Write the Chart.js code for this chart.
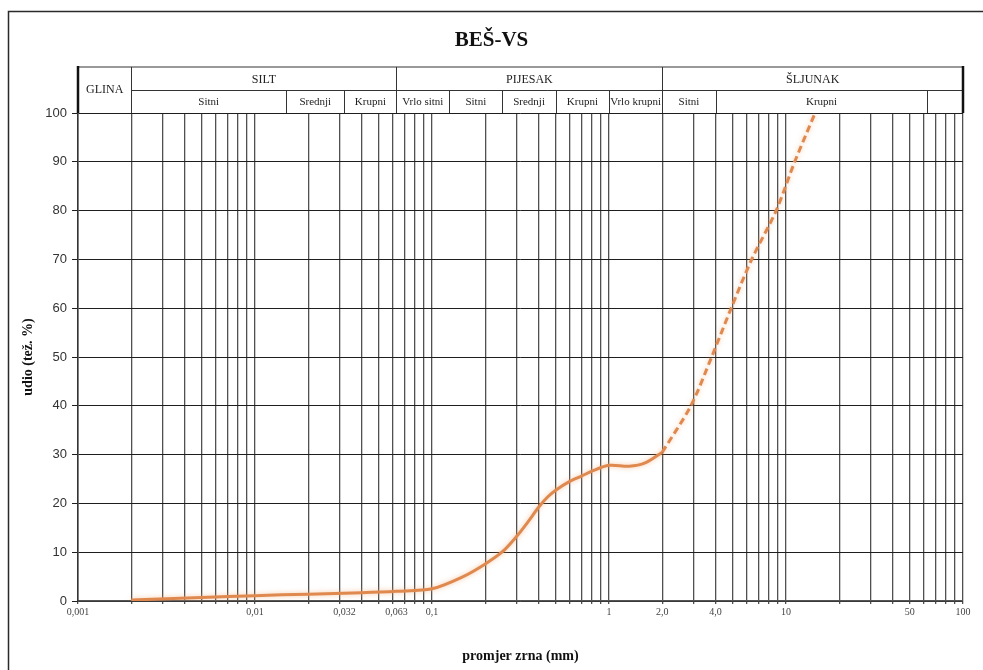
<!DOCTYPE html>
<html lang="hr">
<head>
<meta charset="utf-8">
<title>BEŠ-VS</title>
<script src="https://cdn.jsdelivr.net/npm/chart.js@4.4.1/dist/chart.umd.min.js"></script>
<style>
  body { margin: 0; background: #fff; }
  canvas { display: block; }
</style>
</head>
<body>
<canvas id="myChart" width="983" height="670"></canvas>
<script>
const ctx = document.getElementById("myChart");

//*****************************************************/
//********************** PODACI ***********************/
//*****************************************************/

// granulometrijska krivulja - puna linija
const promjerPuna = [0.002, 0.005, 0.01, 0.02, 0.04, 0.063, 0.1, 0.15, 0.2, 0.25, 0.3, 0.35, 0.4, 0.45, 0.5, 0.6, 0.7, 0.8, 1.0, 1.3, 1.6, 2.0];
const udioPuna = [0.2, 0.7, 1.1, 1.4, 1.7, 2.0, 2.5, 5.0, 7.6, 10.1, 13.2, 16.3, 19.2, 21.3, 22.7, 24.5, 25.6, 26.6, 27.8, 27.6, 28.3, 30.5];

// isprekidani nastavak krivulje
const promjerCrtkana = [2.0, 2.9, 3.8, 4.9, 6.4, 8.8, 11.2, 14.6];
const udioCrtkana = [30.5, 40, 50, 60, 70, 80, 90, 100];

// vertikalne linije mreze (log skala)
const mrezaX = [
  0.001, 0.002, 0.003, 0.004, 0.005, 0.006, 0.007, 0.008, 0.009,
  0.01, 0.02, 0.03, 0.04, 0.05, 0.06, 0.07, 0.08, 0.09,
  0.1, 0.2, 0.3, 0.4, 0.5, 0.6, 0.7, 0.8, 0.9,
  1, 2, 3, 4, 5, 6, 7, 8, 9,
  10, 20, 30, 40, 50, 60, 70, 80, 90, 100
];

// oznake na x osi
const oznakeVrijednosti = [0.001, 0.01, 0.032, 0.063, 0.1, 1, 2, 4, 10, 50, 100];
const oznakeTekst = ["0,001", "0,01", "0,032", "0,063", "0,1", "1", "2,0", "4,0", "10", "50", "100"];

// oznake na y osi
const oznakeY = [0, 10, 20, 30, 40, 50, 60, 70, 80, 90, 100];

// zaglavlje - frakcije
const frakcije = ["GLINA", "SILT", "PIJESAK", "ŠLJUNAK"];
const graniceFrakcija = [0.001, 0.002, 0.063, 2, 100];
const podfrakcije = ["Sitni", "Srednji", "Krupni", "Vrlo sitni", "Sitni", "Srednji", "Krupni", "Vrlo krupni", "Sitni", "Krupni", ""];
const granicePodfrakcija = [0.002, 0.015, 0.032, 0.063, 0.125, 0.25, 0.5, 1, 2, 4, 63, 100];

const SERIF = "'Liberation Serif', 'Times New Roman', serif";
const SANS = "'Liberation Sans', Arial, sans-serif";

//*****************************************************/
//********************* DODACI ************************/
//*****************************************************/

const pozadina = {
  id: "pozadina",
  beforeDraw: (chart) => {
    const c = chart.ctx;
    c.save();
    c.fillStyle = "#ffffff";
    c.fillRect(0, 0, chart.width, chart.height);
    c.strokeStyle = "#2a2a2a";
    c.lineWidth = 1.5;
    c.strokeRect(8.5, 11.5, chart.width + 20, chart.height + 20);
    c.restore();
  },
};

const sjena = {
  id: "sjena",
  beforeDatasetDraw: (chart) => {
    const c = chart.ctx;
    c.save();
    c.shadowColor = "rgba(240,165,110,0.6)";
    c.shadowBlur = 5;
  },
  afterDatasetDraw: (chart) => {
    chart.ctx.restore();
  },
};

const zaglavlje = {
  id: "zaglavlje",
  afterDraw: (chart) => {
    const c = chart.ctx;
    const x = chart.scales.x;
    const area = chart.chartArea;
    const yTop = 67;
    const yMid = 90;
    const yBot = area.top;

    c.save();

    // naslov
    c.fillStyle = "#111";
    c.textAlign = "center";
    c.textBaseline = "middle";
    c.font = "bold 21px " + SERIF;
    c.fillText("BEŠ-VS", chart.width / 2, 41);

    // okvir zaglavlja
    c.strokeStyle = "#999";
    c.lineWidth = 2;
    c.beginPath();
    c.moveTo(area.left, yTop);
    c.lineTo(area.right, yTop);
    c.stroke();

    c.strokeStyle = "#333";
    c.lineWidth = 1;
    c.beginPath();
    c.moveTo(x.getPixelForValue(0.002), yMid + 0.5);
    c.lineTo(area.right, yMid + 0.5);
    c.stroke();

    granicePodfrakcija.forEach((g) => {
      const px = Math.round(x.getPixelForValue(g)) + 0.5;
      c.beginPath();
      c.moveTo(px, yMid);
      c.lineTo(px, yBot);
      c.stroke();
    });
    graniceFrakcija.forEach((g) => {
      const px = Math.round(x.getPixelForValue(g)) + 0.5;
      c.beginPath();
      c.moveTo(px, yTop);
      c.lineTo(px, yBot);
      c.stroke();
    });

    c.strokeStyle = "#111";
    c.lineWidth = 2.5;
    c.beginPath();
    c.moveTo(area.left, yTop - 1);
    c.lineTo(area.left, yBot);
    c.moveTo(area.right, yTop - 1);
    c.lineTo(area.right, yBot);
    c.stroke();

    // tekst frakcija
    c.fillStyle = "#222";
    for (let i = 0; i < frakcije.length; i++) {
      const x1 = x.getPixelForValue(graniceFrakcija[i]);
      const x2 = x.getPixelForValue(graniceFrakcija[i + 1]);
      c.font = "12px " + SERIF;
      const yy = i === 0 ? (yTop + yBot) / 2 : (yTop + yMid) / 2 + 1;
      c.fillText(frakcije[i], (x1 + x2) / 2, yy);
    }
    c.font = "11px " + SERIF;
    for (let i = 0; i < podfrakcije.length; i++) {
      const x1 = x.getPixelForValue(granicePodfrakcija[i]);
      const x2 = x.getPixelForValue(granicePodfrakcija[i + 1]);
      c.fillText(podfrakcije[i], (x1 + x2) / 2, (yMid + yBot) / 2 + 1);
    }

    // naslovi osi
    c.font = "bold 14px " + SERIF;
    c.fillStyle = "#111";
    c.fillText("promjer zrna (mm)", (area.left + area.right) / 2, 656);
    c.translate(28, (area.top + area.bottom) / 2);
    c.rotate(-Math.PI / 2);
    c.fillText("udio (tež. %)", 0, 0);

    c.restore();
  },
};

//*****************************************************/
//****************** DIBUJANJE GRAFA ******************/
//*****************************************************/

const pintarGrafica = () => {
  const puna = promjerPuna.map((p, i) => ({ x: p, y: udioPuna[i] }));
  const crtkana = promjerCrtkana.map((p, i) => ({ x: p, y: udioCrtkana[i] }));

  new Chart(ctx, {
    type: "line",
    data: {
      datasets: [
        {
          label: "BEŠ-VS",
          data: puna,
          borderColor: "#e0894f",
          borderWidth: 3,
          pointRadius: 0,
          tension: 0.3,
          fill: false,
        },
        {
          label: "BEŠ-VS nastavak",
          data: crtkana,
          borderColor: "#e0894f",
          borderWidth: 3,
          borderDash: [7, 4],
          pointRadius: 0,
          tension: 0.3,
          fill: false,
        },
      ],
    },
    options: {
      responsive: false,
      animation: false,
      layout: { padding: { top: 113, right: 20, bottom: 0, left: 0 } },
      plugins: {
        legend: { display: false },
        tooltip: { enabled: false },
      },
      scales: {
        x: {
          type: "logarithmic",
          min: 0.001,
          max: 100,
          afterFit: (scale) => {
            scale.height = 69;
          },
          afterBuildTicks: (scale) => {
            const sve = [...new Set([...mrezaX, ...oznakeVrijednosti])].sort((a, b) => a - b);
            scale.ticks = sve.map((v) => ({ value: v }));
          },
          grid: {
            color: (c) => (c.tick && mrezaX.includes(c.tick.value) ? "#505050" : "rgba(0,0,0,0)"),
            lineWidth: 1.3,
            tickLength: 3,
          },
          border: { color: "#555", width: 1.5 },
          ticks: {
            autoSkip: false,
            maxRotation: 0,
            padding: 2,
            color: "#444",
            font: { family: SERIF, size: 10 },
            callback: (value) => {
              const i = oznakeVrijednosti.indexOf(value);
              return i >= 0 ? oznakeTekst[i] : "";
            },
          },
        },
        y: {
          min: 0,
          max: 100,
          afterFit: (scale) => {
            scale.width = 78;
          },
          afterBuildTicks: (scale) => {
            scale.ticks = oznakeY.map((v) => ({ value: v }));
          },
          grid: { color: "#1e1e1e", lineWidth: 1, tickLength: 6 },
          border: { color: "#333", width: 1.5 },
          ticks: {
            padding: 5,
            color: "#333",
            font: { family: SANS, size: 13 },
          },
        },
      },
    },
    plugins: [pozadina, sjena, zaglavlje],
  });
};

pintarGrafica();
</script>
</body>
</html>
